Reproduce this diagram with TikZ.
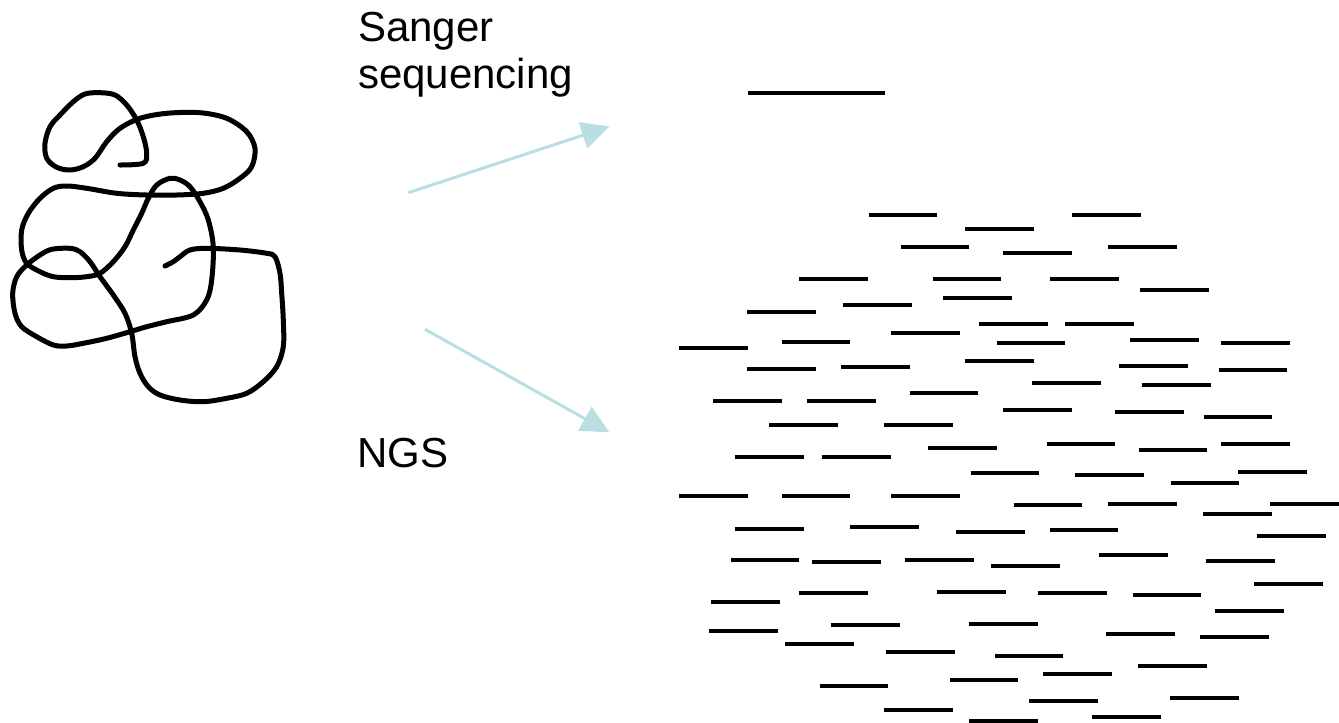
\documentclass[tikz,border=0pt]{standalone}
\usepackage{fontspec}
\setmainfont{Liberation Sans}
\usetikzlibrary{arrows.meta}
\definecolor{flowblue}{RGB}{185,223,227}
\begin{document}
\begin{tikzpicture}[x=1pt,y=-1pt,
  label text/.style={inner sep=0pt,font=\fontsize{42}{47}\selectfont},
  flow arrow/.style={draw=flowblue,line width=3pt,
    -{Triangle[length=28pt,width=27pt]}},
  read/.style={line width=4pt,black},
  strand/.style={line width=5pt,black,line cap=round,line join=round}]
\useasboundingbox (0,0) rectangle (1339,723);

% tangled DNA molecule
\draw[strand] plot[smooth,tension=0.55] coordinates {
 (120,165) (143.3,163.3) (146.7,153.3) (143.3,136.7) (136.7,120) (126.7,105)
 (115,95) (100,92.7) (85,94) (73.3,101.7) (60,115) (50,126.7) (45,143.3)
 (46.7,158.3) (56.7,167.3) (70,170) (83.3,166.7) (95,158.3) (106.7,141.7)
 (120,128.3) (140,118.3) (166.7,113.3) (200,112.7) (226.7,118.3) (246.7,131.7)
 (255,148.3) (251.7,166.7) (240,178.3) (223.3,188.3) (203.3,193.3) (176.7,195)
 (146.7,195) (116.7,193.3) (86.7,188.3) (66.7,186) (53.3,188.3) (40,198.3)
 (28.3,213.3) (21.7,230) (21.7,250) (26.7,263.3) (40,271.7) (53.3,276.7)
 (70,277.7) (86.7,276.7) (100,273.3) (113.3,261.7) (125,246.7) (133.3,230)
 (141.7,213.3) (148.3,198.3) (156.7,185) (170,178.3) (180,180) (190,186.7)
 (200,201.7) (208.3,220) (213.3,246.7) (211.7,280) (206.7,300) (193.3,315)
 (166.7,321.7) (146.7,326.7) (130,331.7) (106.7,338.3) (83.3,343.3) (66.7,346)
 (53.3,345) (36.7,336.7) (21.7,326.7) (15,313.3) (12.7,293.3) (16.7,276.7)
 (26.7,265) (40,255) (51.7,249.3) (70,248.3) (80,251.7) (90,261.7) (100,276.7)
 (113.3,295) (125,313.3) (131.7,333.3) (135,356.7) (140,373.3) (148.3,386.7)
 (160,395) (180,400) (203.3,401.7) (226.7,398.3) (246.7,393.3) (263.3,381.7)
 (276.7,366.7) (283.3,346.7) (283.3,320) (281.7,293.3) (280,273.3) (275,256.7)
 (266.7,253.3) (240,250) (206.7,248.3) (190,250) (180,256.7) (173.3,261.7)
 (165,266)};

% method labels
\node[label text,anchor=base west] (sanger) at (358,41) {Sanger};
\node[label text,anchor=base west] (sangerline2) at (358,88.3) {sequencing};
\node[label text,anchor=base west] (ngs) at (357,467) {NGS};

% arrows
\coordinate (sangerfrom) at (408.3,192.7);
\coordinate (sangerto) at (609.5,126.5);
\coordinate (ngsfrom) at (425,329.3);
\coordinate (ngsto) at (609.3,432.3);
\draw[flow arrow] (sangerfrom) -- (sangerto);
\draw[flow arrow] (ngsfrom) -- (ngsto);

% single long Sanger read
\draw[read] (747.5,92.7) -- ++(137,0);

% many short NGS reads
\foreach \x/\y in {
 868.7/215, 965/229.3, 1072.3/215.3, 900.7/247.3, 1003.3/253.3, 1108.3/246.7,
 799.3/279.3, 932.7/279.3, 1050.3/279.3, 1140.3/290, 943.3/297.7, 843/305.3,
 747.3/312, 979.3/323.7, 1065.3/323.7, 891/333.3, 781.7/342, 996.7/343.3,
 1130/340, 1221.3/342.7, 679/348, 965/361.3, 747.3/369, 841.3/367.3,
 1119.3/366.3, 1218.7/370.3, 909.7/393.3, 713.3/401.3, 807/401.3, 1032.3/383,
 1142/384.7, 1003.3/410.3, 1115.3/412, 1203.7/417.3, 769.3/425.3, 884.3/425.3,
 928.3/448, 1046.7/444.3, 1138.7/450.3, 1221.3/444.3, 735.3/457.3, 822.3/457.3,
 970.7/473.3, 1075/475.3, 1170.7/482.7, 1238/472, 679/495.7, 781.7/495.7,
 891/495.7, 1013.7/504.7, 1108.3/504, 1270/504.3, 1203/514.3, 735.3/529.3,
 850/527.3, 956/531.7, 1049.7/529.7, 1257/536, 730.7/560.3, 812/562,
 905.3/560.3, 991.3/566, 1099/555, 1206.3/561, 1254/584.3, 799.3/593,
 937.3/592.3, 1038/593.3, 1132.7/595.3, 711/602.3, 1215/610.7, 831.3/625.3,
 969/624.3, 709.3/631, 1106.3/633.7, 1200/636.7, 785.3/644, 886.3/652.3,
 994.7/655.7, 1138.3/665.7, 1043/673.7, 949.7/679.7, 819.7/686.3, 1029/700.7,
 1170.3/697.7, 884/710.3, 1092.3/717, 969.3/721}
  \draw[read] (\x,\y) -- ++(68.5,0);
\end{tikzpicture}
\end{document}
